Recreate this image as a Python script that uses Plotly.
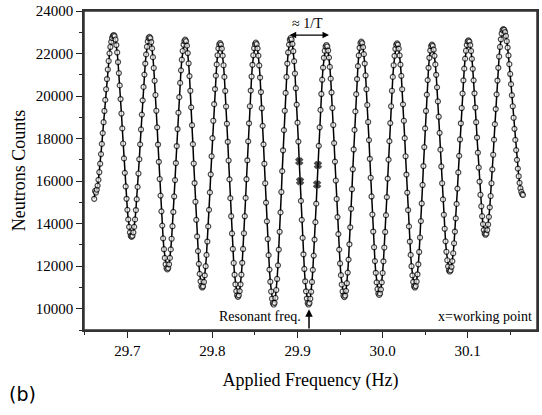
import plotly.graph_objects as go

# Applied frequency scan (Hz)
freqs = [
    29.661, 29.662, 29.663, 29.664, 29.665, 29.666, 29.667, 29.668, 29.669, 29.670,
    29.671, 29.672, 29.673, 29.674, 29.675, 29.676, 29.677, 29.678, 29.679, 29.680,
    29.681, 29.682, 29.683, 29.684, 29.685, 29.686, 29.687, 29.688, 29.689, 29.690,
    29.691, 29.692, 29.693, 29.694, 29.695, 29.696, 29.697, 29.698, 29.699, 29.700,
    29.701, 29.702, 29.703, 29.704, 29.705, 29.706, 29.707, 29.708, 29.709, 29.710,
    29.711, 29.712, 29.713, 29.714, 29.715, 29.716, 29.717, 29.718, 29.719, 29.720,
    29.721, 29.722, 29.723, 29.724, 29.725, 29.726, 29.727, 29.728, 29.729, 29.730,
    29.731, 29.732, 29.733, 29.734, 29.735, 29.736, 29.737, 29.738, 29.739, 29.740,
    29.741, 29.742, 29.743, 29.744, 29.745, 29.746, 29.747, 29.748, 29.749, 29.750,
    29.751, 29.752, 29.753, 29.754, 29.755, 29.756, 29.757, 29.758, 29.759, 29.760,
    29.761, 29.762, 29.763, 29.764, 29.765, 29.766, 29.767, 29.768, 29.769, 29.770,
    29.771, 29.772, 29.773, 29.774, 29.775, 29.776, 29.777, 29.778, 29.779, 29.780,
    29.781, 29.782, 29.783, 29.784, 29.785, 29.786, 29.787, 29.788, 29.789, 29.790,
    29.791, 29.792, 29.793, 29.794, 29.795, 29.796, 29.797, 29.798, 29.799, 29.800,
    29.801, 29.802, 29.803, 29.804, 29.805, 29.806, 29.807, 29.808, 29.809, 29.810,
    29.811, 29.812, 29.813, 29.814, 29.815, 29.816, 29.817, 29.818, 29.819, 29.820,
    29.821, 29.822, 29.823, 29.824, 29.825, 29.826, 29.827, 29.828, 29.829, 29.830,
    29.831, 29.832, 29.833, 29.834, 29.835, 29.836, 29.837, 29.838, 29.839, 29.840,
    29.841, 29.842, 29.843, 29.844, 29.845, 29.846, 29.847, 29.848, 29.849, 29.850,
    29.851, 29.852, 29.853, 29.854, 29.855, 29.856, 29.857, 29.858, 29.859, 29.860,
    29.861, 29.862, 29.863, 29.864, 29.865, 29.866, 29.867, 29.868, 29.869, 29.870,
    29.871, 29.872, 29.873, 29.874, 29.875, 29.876, 29.877, 29.878, 29.879, 29.880,
    29.881, 29.882, 29.883, 29.884, 29.885, 29.886, 29.887, 29.888, 29.889, 29.890,
    29.891, 29.892, 29.893, 29.894, 29.895, 29.896, 29.897, 29.898, 29.899, 29.900,
    29.901, 29.902, 29.903, 29.904, 29.905, 29.906, 29.907, 29.908, 29.909, 29.910,
    29.911, 29.912, 29.913, 29.914, 29.915, 29.916, 29.917, 29.918, 29.919, 29.920,
    29.921, 29.922, 29.923, 29.924, 29.925, 29.926, 29.927, 29.928, 29.929, 29.930,
    29.931, 29.932, 29.933, 29.934, 29.935, 29.936, 29.937, 29.938, 29.939, 29.940,
    29.941, 29.942, 29.943, 29.944, 29.945, 29.946, 29.947, 29.948, 29.949, 29.950,
    29.951, 29.952, 29.953, 29.954, 29.955, 29.956, 29.957, 29.958, 29.959, 29.960,
    29.961, 29.962, 29.963, 29.964, 29.965, 29.966, 29.967, 29.968, 29.969, 29.970,
    29.971, 29.972, 29.973, 29.974, 29.975, 29.976, 29.977, 29.978, 29.979, 29.980,
    29.981, 29.982, 29.983, 29.984, 29.985, 29.986, 29.987, 29.988, 29.989, 29.990,
    29.991, 29.992, 29.993, 29.994, 29.995, 29.996, 29.997, 29.998, 29.999, 30.000,
    30.001, 30.002, 30.003, 30.004, 30.005, 30.006, 30.007, 30.008, 30.009, 30.010,
    30.011, 30.012, 30.013, 30.014, 30.015, 30.016, 30.017, 30.018, 30.019, 30.020,
    30.021, 30.022, 30.023, 30.024, 30.025, 30.026, 30.027, 30.028, 30.029, 30.030,
    30.031, 30.032, 30.033, 30.034, 30.035, 30.036, 30.037, 30.038, 30.039, 30.040,
    30.041, 30.042, 30.043, 30.044, 30.045, 30.046, 30.047, 30.048, 30.049, 30.050,
    30.051, 30.052, 30.053, 30.054, 30.055, 30.056, 30.057, 30.058, 30.059, 30.060,
    30.061, 30.062, 30.063, 30.064, 30.065, 30.066, 30.067, 30.068, 30.069, 30.070,
    30.071, 30.072, 30.073, 30.074, 30.075, 30.076, 30.077, 30.078, 30.079, 30.080,
    30.081, 30.082, 30.083, 30.084, 30.085, 30.086, 30.087, 30.088, 30.089, 30.090,
    30.091, 30.092, 30.093, 30.094, 30.095, 30.096, 30.097, 30.098, 30.099, 30.100,
    30.101, 30.102, 30.103, 30.104, 30.105, 30.106, 30.107, 30.108, 30.109, 30.110,
    30.111, 30.112, 30.113, 30.114, 30.115, 30.116, 30.117, 30.118, 30.119, 30.120,
    30.121, 30.122, 30.123, 30.124, 30.125, 30.126, 30.127, 30.128, 30.129, 30.130,
    30.131, 30.132, 30.133, 30.134, 30.135, 30.136, 30.137, 30.138, 30.139, 30.140,
    30.141, 30.142, 30.143, 30.144, 30.145, 30.146, 30.147, 30.148, 30.149, 30.150,
    30.151, 30.152, 30.153, 30.154, 30.155, 30.156, 30.157, 30.158, 30.159, 30.160,
    30.161, 30.162, 30.163, 30.164, 30.165,
]

# Neutron counts
counts = [
    15170, 15540, 15460, 15600, 15790, 16060, 16420, 16820, 17270, 17750, 18260, 18770,
    19300, 19820, 20320, 20800, 21250, 21650, 22010, 22310, 22550, 22730, 22830, 22870,
    22820, 22660, 22400, 22050, 21600, 21080, 20500, 19860, 19180, 18480, 17770, 17070,
    16390, 15750, 15170, 14650, 14200, 13850, 13590, 13430, 13380,
    13430, 13590, 13850, 14200, 14640, 15150, 15730, 16360, 17030, 17730, 18430, 19130,
    19800, 20430, 21010, 21530, 21960, 22320, 22570, 22730, 22780,
    22720, 22540, 22240, 21830, 21320, 20720, 20050, 19310, 18530, 17720, 16910, 16100,
    15320, 14580, 13910, 13310, 12800, 12390, 12090, 11910, 11850,
    11910, 12090, 12390, 12790, 13290, 13880, 14550, 15280, 16050, 16850, 17650, 18450,
    19220, 19950, 20620, 21210, 21710, 22120, 22410, 22590, 22650,
    22580, 22370, 22020, 21540, 20940, 20250, 19470, 18630, 17740, 16830, 15910, 15030,
    14180, 13400, 12710, 12110, 11640, 11290, 11070, 11000,
    11060, 11260, 11570, 12000, 12530, 13160, 13870, 14650, 15470, 16320, 17170, 18020,
    18840, 19620, 20330, 20960, 21490, 21920, 22240, 22430, 22490,
    22420, 22230, 21900, 21450, 20900, 20240, 19510, 18700, 17850, 16970, 16080, 15200,
    14350, 13540, 12810, 12150, 11600, 11150, 10830, 10630, 10560,
    10630, 10830, 11150, 11600, 12160, 12810, 13550, 14350, 15210, 16090, 16980, 17870,
    18720, 19520, 20260, 20920, 21470, 21920, 22250, 22440, 22510,
    22440, 22240, 21900, 21440, 20870, 20190, 19430, 18600, 17730, 16820, 15900, 14990,
    14110, 13280, 12520, 11840, 11270, 10810, 10470, 10270, 10200,
    10280, 10510, 10880, 11400, 12040, 12780, 13620, 14530, 15490, 16470, 17450, 18400,
    19310, 20150, 20900, 21530, 22050, 22420, 22650, 22730,
    22660, 22450, 22110, 21640, 21060, 20370, 19600, 18750, 17860, 16930, 16000, 15070,
    14180, 13330, 12560, 11870, 11290, 10820, 10480, 10270, 10200,
    10270, 10470, 10800, 11260, 11830, 12500, 13250, 14070, 14940, 15840, 16760, 17660,
    18530, 19350, 20100, 20770, 21340, 21800, 22130, 22330, 22400,
    22330, 22140, 21810, 21370, 20820, 20170, 19440, 18640, 17790, 16920, 16030, 15160,
    14310, 13510, 12780, 12130, 11580, 11140, 10810, 10620, 10550,
    10620, 10840, 11200, 11700, 12310, 13030, 13830, 14700, 15620, 16560, 17490, 18410,
    19280, 20090, 20800, 21410, 21910, 22270, 22490, 22560,
    22490, 22300, 21970, 21530, 20970, 20320, 19580, 18780, 17930, 17050, 16160, 15280,
    14430, 13630, 12890, 12240, 11690, 11240, 10920, 10720, 10650,
    10720, 10910, 11240, 11680, 12230, 12880, 13610, 14400, 15250, 16120, 17010, 17880,
    18730, 19520, 20250, 20900, 21450, 21890, 22220, 22410, 22480,
    22420, 22230, 21910, 21480, 20950, 20320, 19610, 18840, 18020, 17170, 16310, 15460,
    14640, 13870, 13160, 12530, 12000, 11570, 11260, 11060, 11000,
    11070, 11280, 11620, 12090, 12670, 13350, 14120, 14950, 15820, 16710, 17600, 18480,
    19300, 20070, 20750, 21330, 21800, 22140, 22350, 22420,
    22360, 22180, 21890, 21490, 21000, 20410, 19750, 19030, 18270, 17480, 16690, 15900,
    15140, 14420, 13760, 13170, 12680, 12280, 11990, 11810, 11750,
    11810, 11970, 12240, 12610, 13080, 13630, 14250, 14930, 15650, 16410, 17190, 17960,
    18720, 19440, 20120, 20740, 21290, 21760, 22130, 22400, 22570, 22620,
    22560, 22400, 22120, 21750, 21280, 20740, 20130, 19460, 18770, 18050, 17340, 16640,
    15980, 15360, 14820, 14350, 13980, 13700, 13540, 13480,
    13530, 13700, 13960, 14320, 14770, 15300, 15900, 16550, 17240, 17950, 18680, 19390,
    20080, 20730, 21330, 21860, 22310, 22670, 22940, 23100, 23150,
    23110, 23010, 22830, 22580, 22280, 21910, 21500, 21040, 20560, 20040, 19520, 18980,
    18460, 17940, 17460, 17000, 16590, 16230, 15920, 15670, 15500, 15390, 15350,
]

# working points (marked with x)
working_freqs = [29.902, 29.903, 29.923, 29.924]
resonant_freq = 29.9135

x_tickvals = [29.7, 29.8, 29.9, 30.0, 30.1]
y_tickvals = [10000, 12000, 14000, 16000, 18000, 20000, 22000, 24000]

n = min(len(freqs), len(counts))
fx = freqs[:n]
fy = counts[:n]
wset = set(round(w, 3) for w in working_freqs)
symbols = ["x" if round(f, 3) in wset else "circle" for f in fx]
colors = ["black" if round(f, 3) in wset else "white" for f in fx]
sizes = [6 if round(f, 3) in wset else 5 for f in fx]

serif = "Liberation Serif, Times New Roman, serif"

fig = go.Figure()
fig.add_trace(go.Scatter(
    x=fx, y=fy, mode="lines+markers",
    line=dict(color="black", width=1.5),
    marker=dict(symbol=symbols, size=sizes, color=colors,
                line=dict(color="black", width=1.2)),
    showlegend=False,
))

fig.update_layout(
    width=542, height=415,
    margin=dict(l=84, r=3, t=11, b=85),
    paper_bgcolor="white", plot_bgcolor="white",
    font=dict(family=serif, size=15, color="black"),
)

fig.update_xaxes(
    range=[29.649, 30.1815],
    tickvals=x_tickvals, ticktext=[f"{v:.1f}" for v in x_tickvals],
    ticks="outside", ticklen=6, tickwidth=1.2, tickcolor="#222222",
    minor=dict(dtick=0.05, tick0=29.65, ticks="outside", ticklen=3, tickcolor="#222222"),
    showline=True, linecolor="#333333", linewidth=1.5, mirror=True,
    showgrid=False, zeroline=False,
    title=dict(text="Applied Frequency (Hz)", font=dict(size=18), standoff=16),
)
fig.update_yaxes(
    range=[9000, 24000],
    tickvals=y_tickvals, ticktext=[str(v) for v in y_tickvals],
    ticks="outside", ticklen=6, tickwidth=1.2, tickcolor="#222222",
    minor=dict(dtick=1000, tick0=0, ticks="outside", ticklen=3, tickcolor="#222222"),
    showline=True, linecolor="#333333", linewidth=1.5, mirror=True,
    showgrid=False, zeroline=False,
    title=dict(text="Neutrons Counts", font=dict(size=18), standoff=5),
)

# plot frame
fig.add_shape(type="rect", xref="paper", yref="paper", x0=0, x1=1, y0=0, y1=1,
              line=dict(color="#333333", width=1.5), fillcolor="rgba(0,0,0,0)",
              layer="above")

# annotations
fig.add_annotation(x=resonant_freq, y=9980, ax=resonant_freq, ay=9000,
                   xref="x", yref="y", axref="x", ayref="y",
                   showarrow=True, arrowhead=2, arrowsize=1, arrowwidth=1.5,
                   arrowcolor="black", text="")
fig.add_annotation(x=29.9064, y=9640, xref="x", yref="y", text="Resonant freq.",
                   showarrow=False, xanchor="right", yanchor="middle",
                   font=dict(family=serif, size=14))
fig.add_annotation(x=30.1781, y=9640, xref="x", yref="y", text="x=working point",
                   showarrow=False, xanchor="right", yanchor="middle",
                   font=dict(family=serif, size=14))
fig.add_annotation(x=29.9123, y=23430, xref="x", yref="y", text="≈ 1/T",
                   showarrow=False, xanchor="center", yanchor="middle",
                   font=dict(family=serif, size=14))
fig.add_annotation(x=29.937, y=22870, ax=29.889, ay=22870,
                   xref="x", yref="y", axref="x", ayref="y",
                   showarrow=True, arrowhead=2, arrowside="end+start",
                   arrowsize=1, arrowwidth=1.3, arrowcolor="black", text="")
fig.add_annotation(xref="paper", yref="paper", x=-0.17, y=-0.2,
                   xanchor="left", yanchor="middle", text="(b)", showarrow=False,
                   font=dict(family="DejaVu Sans, sans-serif", size=19))

# remove the default page margin so the figure fills the window exactly
fig.write_html("out.html",
               config={"displayModeBar": False},
               post_script="document.body.style.margin='0';document.body.style.overflow='hidden';")
